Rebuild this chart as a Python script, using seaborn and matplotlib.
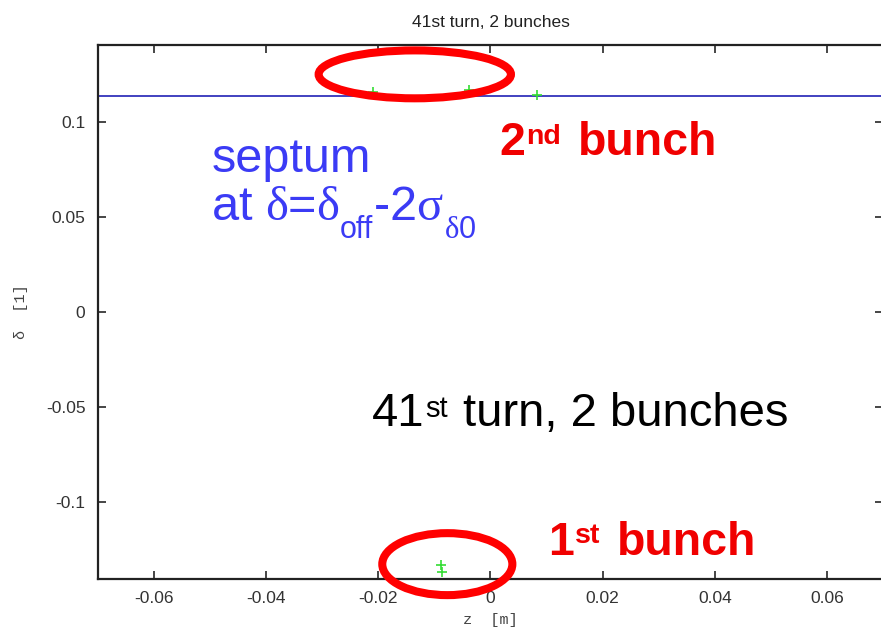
import pandas as pd
import seaborn as sns
import matplotlib.pyplot as plt
from matplotlib.patches import Ellipse

# particle coordinates
z_vals = [-0.0209, -0.0038, 0.0083, -0.0088, -0.0086]
delta_vals = [0.1158, 0.1167, 0.1139, -0.1333, -0.1368]
bunch = ["2nd", "2nd", "2nd", "1st", "1st"]

septum_delta = 0.1137

# highlight ellipses: centre z, centre delta, width, height
ell_z = [-0.0135, -0.0077]
ell_d = [0.1249, -0.1327]
ell_w = [0.0343, 0.0232]
ell_h = [0.0252, 0.0326]

x_ticks = [-0.06, -0.04, -0.02, 0, 0.02, 0.04, 0.06]
y_ticks = [-0.1, -0.05, 0, 0.05, 0.1]

df = pd.DataFrame({"z": z_vals, "delta": delta_vals, "bunch": bunch})

sns.set_style("ticks")
plt.rcParams['font.family'] = ['Liberation Sans', 'DejaVu Sans']
plt.rcParams['mathtext.fontset'] = 'custom'
plt.rcParams['mathtext.rm'] = 'Liberation Sans'
plt.rcParams['mathtext.sf'] = 'Liberation Serif'  # serif greek like the slide

fig = plt.figure(figsize=(8.81, 6.34), dpi=100)
ax = fig.add_axes([0.1112, 0.0868, 0.8911, 0.8427])

ax.axhline(septum_delta, color="#3333bb", lw=1.3, zorder=2)
sns.scatterplot(data=df, x="z", y="delta", marker="+", color="#33dd33",
                s=45, linewidth=1.2, legend=False, ax=ax, zorder=3)

for cz, cd, w, h in zip(ell_z, ell_d, ell_w, ell_h):
    ax.add_patch(Ellipse((cz, cd), w, h, fill=False, edgecolor="#ff0000",
                         lw=5.8, clip_on=False, zorder=5))

ax.set_xlim(-0.07, 0.07)
ax.set_ylim(-0.1405, 0.1405)
ax.set_xticks(x_ticks)
ax.set_xticklabels(["-0.06", "-0.04", "-0.02", "0", "0.02", "0.04", "0.06"])
ax.set_yticks(y_ticks)
ax.set_yticklabels(["-0.1", "-0.05", "0", "0.05", "0.1"])
ax.tick_params(direction="in", length=6, width=1.2, top=True, right=True,
               labelsize=12.5, labelcolor="#333333", pad=9)
for sp in ax.spines.values():
    sp.set_linewidth(1.6)
    sp.set_color("#222222")

ax.set_xlabel("z  [m]", family="Liberation Mono", fontsize=11, color="#444444", labelpad=5)
ax.set_ylabel("δ  [1]", family="Liberation Mono", fontsize=11, color="#444444", labelpad=13)
ax.set_title("41st turn, 2 bunches", fontsize=12.5, color="#222222",
             family=["Liberation Sans Narrow", "Liberation Sans"], pad=13)


def sup_text(x, y, base, sup, rest, size, sup_size, gap, **kw):
    # slide-style superscript: small, top aligned with the capitals
    t1 = ax.text(x, y, base, fontsize=size, **kw)
    t2 = ax.annotate(sup, xy=(1, 1), xycoords=t1, xytext=(1, -2),
                     textcoords="offset points", va="top", ha="left",
                     fontsize=sup_size, **kw)
    ax.annotate(rest, xy=(1, 0), xycoords=(t2, t1), xytext=(gap, 0),
                textcoords="offset points", va="bottom", ha="left",
                fontsize=size, **kw)


def chain(x, y, pieces, **kw):
    # pieces: (text, fontsize, x shift, baseline shift in points)
    prev = ax.text(x, y, pieces[0][0], fontsize=pieces[0][1], **kw)
    for txt, size, dx, dy in pieces[1:]:
        prev = ax.annotate(txt, xy=(1, y), xycoords=(prev, "data"),
                           xytext=(dx, dy), textcoords="offset points",
                           va="baseline", ha="left", fontsize=size, **kw)


# annotations
ax.text(-0.0498, 0.0734, "septum", color="#3b3bf5", fontsize=35)
chain(-0.0498, 0.0483,
      [(r"at $\mathsf{\delta}$=$\mathsf{\delta}$", 35, 0, 0),
       ("off", 22, 0, -13),
       (r"-2$\mathsf{\sigma}$", 35, 0, 0),
       (r"$\mathsf{\delta}$0", 22, 0, -13)],
      color="#3b3bf5")
sup_text(0.0015, 0.0825, "2", "nd", "bunch", 33.5, 20.5, 12,
         color="#f00000", fontweight="bold")
sup_text(-0.0212, -0.0603, "41", "st", "turn, 2 bunches", 34, 21, 11,
         color="black")
sup_text(0.0102, -0.1277, "1", "st", "bunch", 33.5, 20.5, 12,
         color="#f00000", fontweight="bold")

fig.savefig("out.png", dpi=100)
